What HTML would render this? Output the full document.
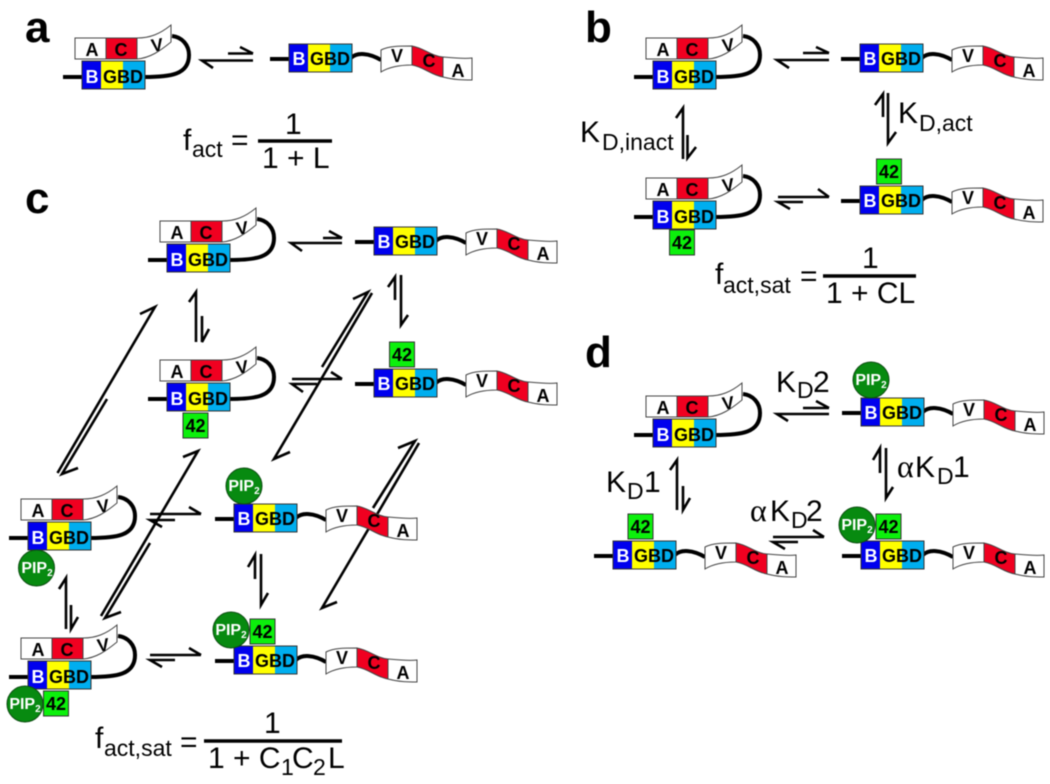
<!DOCTYPE html>
<html lang="en">
<head>
<meta charset="utf-8">
<title>Diagram</title>
<style>
html,body{margin:0;padding:0;background:#fff;width:1050px;height:784px;overflow:hidden}
svg{display:block;filter:blur(0.5px)}
text{font-family:"Liberation Sans",sans-serif;fill:#000}
.s text{font-weight:bold;font-size:18px;text-anchor:middle}
.s text.w{fill:#fff}
.s text.p{fill:#fff;font-size:16px}
.s text.p tspan{fill:#fff;font-size:10px}
.l{font-weight:bold;font-size:44px}
.m{font-size:30px}
.u{font-size:23px}
.a{font-family:"Liberation Serif",serif;font-size:32px}
.ar{fill:none;stroke:#000;stroke-width:2.6}
</style>
</head>
<body>
<svg width="1050" height="784" viewBox="0 0 1050 784" xmlns="http://www.w3.org/2000/svg">
<defs>
<g id="box">
<rect x="0" y="-14" width="19" height="28" fill="#0000ee"/>
<rect x="19" y="-14" width="22" height="28" fill="#ffff00"/>
<rect x="41" y="-14" width="22" height="28" fill="#00aeef"/>
<rect x="0" y="-14" width="63" height="28" fill="none" stroke="#333" stroke-width="1"/>
</g>
<g id="cl">
<path d="M-19,2H0" stroke="#000" stroke-width="4" fill="none"/>
<path d="M62,2C88,2 107,0 107,-20C107,-30 100,-38 90,-39" stroke="#000" stroke-width="4" fill="none"/>
<rect x="-7" y="-37" width="31" height="21" fill="#fff" stroke="#444"/>
<rect x="24" y="-37" width="31" height="21" fill="#f00020" stroke="#444"/>
<path d="M55,-37C68,-37 78,-41 89,-50V-33C78,-24 68,-17 55,-16Z" fill="#fff" stroke="#444"/>
<use href="#box"/>
</g>
<g id="op">
<path d="M-19,1H0" stroke="#000" stroke-width="4" fill="none"/>
<path d="M62,0C68,-6 80,-5 92,2" stroke="#000" stroke-width="4" fill="none"/>
<path d="M92,-8C100,-12 110,-12 123,-12V7C110,7 100,9 92,14Z" fill="#fff" stroke="#444"/>
<path d="M123,-12C135,-10 142,-2 154,-1V19C142,17 135,9 123,7Z" fill="#f00020" stroke="#444"/>
<path d="M154,-1C165,0 175,1 183,0V22C175,22 165,22 154,19Z" fill="#fff" stroke="#444"/>
<use href="#box"/>
</g>
</defs>

<!-- panel letters -->
<text class="l" x="25" y="42">a</text>
<text class="l" x="585" y="42">b</text>
<text class="l" x="25" y="213">c</text>
<text class="l" x="585" y="367">d</text>

<!-- arrows -->
<g class="ar">
<!-- a -->
<path d="M253,60.5H202L213,68M253,53.5H228M253,53.5L240,47"/>
<!-- b -->
<path d="M829,60H777L789,68M829,53H803M829,53L816,47"/>
<path d="M683,159V108L676,118M687.5,135V158L696,147"/>
<path d="M883,117V94L875,105M888,93V143L896,132"/>
<path d="M829,197H778M829,197L818,189M803,202H778L790,209"/>
<!-- c -->
<path d="M342,243H291L302,251M342,238H323M342,238L329,231"/>
<path d="M196,342V292L189,302M202,316V342L209,329"/>
<path d="M395,300V277L388,287M401,275V325L408,315"/>
<path d="M342,379H292M342,379L331,372M317,384H292L303,392"/>
<path d="M201,514H150M201,514L189,507M175,520H150L162,527"/>
<path d="M201,655H150M201,655L189,648M175,660H150L162,667"/>
<path d="M66,629V578L59,589M71,605V629L78,617"/>
<path d="M255,579V555L248,567M261,554V605L268,593"/>
<!-- c diagonals -->
<path d="M57.500,473L155,307L140,314M107,399L62,474L78,468"/>
<path d="M101,616L198,451L183,457M150,543L105,618L121,612"/>
<path d="M322,367L368,292L353,299M372,293L274,459L290,452"/>
<path d="M373,508L415,441L398,448M419,443L322,608L337,602"/>
<!-- d -->
<path d="M829,414H777L788,421M829,408H803M829,408L816,401"/>
<path d="M677,510V460L670,470M683,486V510L690,498"/>
<path d="M880,473V448L873,460M886,448V498L893,487"/>
<path d="M824,537H773M824,537L813,530M798,542H773L785,549"/>
</g>

<g class="s">
<!-- panel a -->
<g transform="translate(82,75)"><use href="#cl"/><text x="10" y="-19">A</text><text x="39" y="-19">C</text><text transform="translate(76,-24) rotate(-8)">V</text><text class="w" x="10" y="8">B</text><text x="41" y="8">GBD</text></g>
<g transform="translate(289,58)"><use href="#op"/><text x="108" y="4">V</text><text x="140" y="9">C</text><text x="169" y="19">A</text><text class="w" x="10" y="7">B</text><text x="41" y="7">GBD</text></g>

<!-- panel b -->
<g transform="translate(653,75)"><use href="#cl"/><text x="10" y="-19">A</text><text x="39" y="-19">C</text><text transform="translate(76,-24) rotate(-8)">V</text><text class="w" x="10" y="8">B</text><text x="41" y="8">GBD</text></g>
<g transform="translate(860,58)"><use href="#op"/><text x="108" y="4">V</text><text x="140" y="9">C</text><text x="169" y="19">A</text><text class="w" x="10" y="7">B</text><text x="41" y="7">GBD</text></g>
<g transform="translate(653,215)"><use href="#cl"/><text x="10" y="-19">A</text><text x="39" y="-19">C</text><text transform="translate(76,-24) rotate(-8)">V</text><text class="w" x="10" y="8">B</text><text x="41" y="8">GBD</text></g>
<rect x="669.500" y="230" width="25" height="25" fill="#0cf00c" stroke="#333"/><text x="682" y="249">42</text>
<g transform="translate(860,200)"><use href="#op"/><text x="108" y="4">V</text><text x="140" y="9">C</text><text x="169" y="19">A</text><text class="w" x="10" y="7">B</text><text x="41" y="7">GBD</text></g>
<rect x="876.500" y="159" width="25" height="25" fill="#0cf00c" stroke="#333"/><text x="889" y="178">42</text>

<!-- panel c -->
<g transform="translate(167,258)"><use href="#cl"/><text x="10" y="-19">A</text><text x="39" y="-19">C</text><text transform="translate(76,-24) rotate(-8)">V</text><text class="w" x="10" y="8">B</text><text x="41" y="8">GBD</text></g>
<g transform="translate(374,241)"><use href="#op"/><text x="108" y="4">V</text><text x="140" y="9">C</text><text x="169" y="19">A</text><text class="w" x="10" y="7">B</text><text x="41" y="7">GBD</text></g>
<g transform="translate(167,397)"><use href="#cl"/><text x="10" y="-19">A</text><text x="39" y="-19">C</text><text transform="translate(76,-24) rotate(-8)">V</text><text class="w" x="10" y="8">B</text><text x="41" y="8">GBD</text></g>
<rect x="183" y="413" width="25" height="25" fill="#0cf00c" stroke="#333"/><text x="195.500" y="432">42</text>
<g transform="translate(374,383)"><use href="#op"/><text x="108" y="4">V</text><text x="140" y="9">C</text><text x="169" y="19">A</text><text class="w" x="10" y="7">B</text><text x="41" y="7">GBD</text></g>
<rect x="389.500" y="342" width="25" height="25" fill="#0cf00c" stroke="#333"/><text x="402" y="361">42</text>

<g transform="translate(28,536)"><use href="#cl"/><text x="10" y="-19">A</text><text x="39" y="-19">C</text><text transform="translate(76,-24) rotate(-8)">V</text><text class="w" x="10" y="8">B</text><text x="41" y="8">GBD</text></g>
<circle cx="36.500" cy="568" r="18" fill="#078a10" stroke="#0d4d12"/><text class="p" x="37" y="573">PIP<tspan dy="3">2</tspan></text>

<g transform="translate(234,518)"><use href="#op"/><text x="108" y="4">V</text><text x="140" y="9">C</text><text x="169" y="19">A</text><text class="w" x="10" y="7">B</text><text x="41" y="7">GBD</text></g>
<circle cx="244" cy="486" r="18" fill="#078a10" stroke="#0d4d12"/><text class="p" x="244" y="491">PIP<tspan dy="3">2</tspan></text>

<g transform="translate(28,675)"><use href="#cl"/><text x="10" y="-19">A</text><text x="39" y="-19">C</text><text transform="translate(76,-24) rotate(-8)">V</text><text class="w" x="10" y="8">B</text><text x="41" y="8">GBD</text></g>
<rect x="43.500" y="691" width="25" height="25" fill="#0cf00c" stroke="#333"/><text x="56" y="710">42</text>
<circle cx="25" cy="704" r="18" fill="#078a10" stroke="#0d4d12"/><text class="p" x="25" y="709">PIP<tspan dy="3">2</tspan></text>

<g transform="translate(234,660)"><use href="#op"/><text x="108" y="4">V</text><text x="140" y="9">C</text><text x="169" y="19">A</text><text class="w" x="10" y="7">B</text><text x="41" y="7">GBD</text></g>
<rect x="250" y="619" width="25" height="25" fill="#0cf00c" stroke="#333"/><text x="262.500" y="638">42</text>
<circle cx="231" cy="630" r="18" fill="#078a10" stroke="#0d4d12"/><text class="p" x="231" y="635">PIP<tspan dy="3">2</tspan></text>

<!-- panel d -->
<g transform="translate(653,433)"><use href="#cl"/><text x="10" y="-19">A</text><text x="39" y="-19">C</text><text transform="translate(76,-24) rotate(-8)">V</text><text class="w" x="10" y="8">B</text><text x="41" y="8">GBD</text></g>
<g transform="translate(861,412)"><use href="#op"/><text x="108" y="4">V</text><text x="140" y="9">C</text><text x="169" y="19">A</text><text class="w" x="10" y="7">B</text><text x="41" y="7">GBD</text></g>
<circle cx="871" cy="380" r="18" fill="#078a10" stroke="#0d4d12"/><text class="p" x="871" y="385">PIP<tspan dy="3">2</tspan></text>
<g transform="translate(613,555)"><use href="#op"/><text x="108" y="4">V</text><text x="140" y="9">C</text><text x="169" y="19">A</text><text class="w" x="10" y="7">B</text><text x="41" y="7">GBD</text></g>
<rect x="628" y="514" width="25" height="25" fill="#0cf00c" stroke="#333"/><text x="640.500" y="533">42</text>
<g transform="translate(861,555)"><use href="#op"/><text x="108" y="4">V</text><text x="140" y="9">C</text><text x="169" y="19">A</text><text class="w" x="10" y="7">B</text><text x="41" y="7">GBD</text></g>
<rect x="876" y="514" width="25" height="25" fill="#0cf00c" stroke="#333"/><text x="888.500" y="533">42</text>
<circle cx="857" cy="525" r="18" fill="#078a10" stroke="#0d4d12"/><text class="p" x="857" y="530">PIP<tspan dy="3">2</tspan></text>
</g>

<!-- equations: a -->
<text class="m" x="183" y="150">f</text><text class="u" x="192" y="157">act</text>
<text class="m" x="231" y="150">=</text>
<path d="M258,141H332" stroke="#000" stroke-width="3.4"/>
<text class="m" x="285" y="134">1</text>
<text class="m" x="262" y="168">1 + L</text>

<!-- equations: b -->
<text class="m" x="715" y="284">f</text><text class="u" x="723" y="293">act,sat</text>
<text class="m" x="800" y="286">=</text>
<path d="M823,276H916" stroke="#000" stroke-width="3.4"/>
<text class="m" x="862" y="268">1</text>
<text class="m" x="826" y="303">1 + CL</text>
<text class="m" x="580" y="142">K</text><text class="u" x="602" y="150">D,inact</text>
<text class="m" x="898" y="123">K</text><text class="u" x="919" y="131">D,act</text>

<!-- equations: c -->
<text class="m" x="95" y="748">f</text><text class="u" x="104" y="756">act,sat</text>
<text class="m" x="180" y="752">=</text>
<path d="M204,741H342" stroke="#000" stroke-width="3.4"/>
<text class="m" x="264" y="733">1</text>
<text class="m" x="208" y="768">1 + C</text><text class="u" x="281" y="775">1</text>
<text class="m" x="292" y="768">C</text><text class="u" x="313" y="775">2</text>
<text class="m" x="328" y="768">L</text>

<!-- equations: d -->
<text class="m" x="776" y="392">K</text><text class="u" x="797" y="398">D</text><text class="m" x="813" y="392">2</text>
<text class="a" x="897" y="477">α</text><text class="m" x="915" y="477">K</text><text class="u" x="937" y="484">D</text><text class="m" x="953" y="477">1</text>
<text class="m" x="606" y="492">K</text><text class="u" x="627" y="499">D</text><text class="m" x="644" y="492">1</text>
<text class="a" x="750" y="521">α</text><text class="m" x="770" y="521">K</text><text class="u" x="791" y="528">D</text><text class="m" x="806" y="521">2</text>
</svg>
</body>
</html>
